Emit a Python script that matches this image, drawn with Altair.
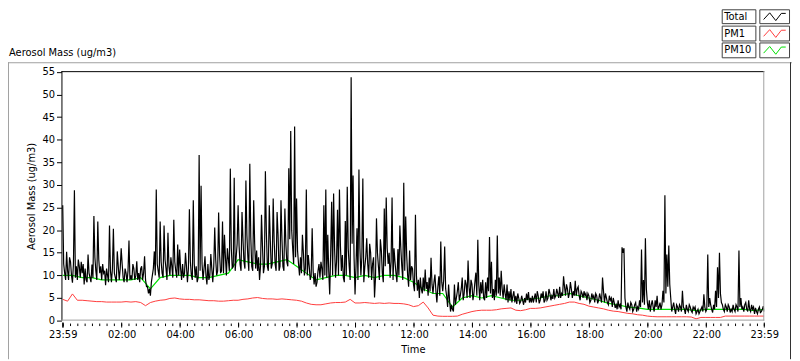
import json
import altair as alt
import pandas as pd

# ---------------- data ----------------
# Total aerosol mass, samples at 23:59 + 4*i minutes
TOTAL = [
    25.5, 10.5, 15.2, 9.0, 13.0, 8.4, 28.8, 12.0, 13.5, 9.5,
    10.5, 8.0, 9.0, 14.6, 9.5, 12.4, 23.1, 11.0, 21.9, 10.5,
    9.0, 10.5, 7.8, 10.0, 21.0, 8.5, 20.3, 9.5, 15.3, 9.0,
    16.0, 9.5, 11.5, 8.5, 17.7, 10.0, 12.5, 9.0, 13.1, 10.5,
    11.5, 9.0, 14.2, 7.5, 6.0, 5.5, 10.0, 15.3, 29.0, 11.0,
    21.9, 10.5, 21.0, 11.5, 19.4, 10.0, 12.0, 22.3, 11.0, 16.8,
    15.7, 9.0, 9.5, 15.0, 8.5, 24.6, 10.0, 26.6, 9.5, 8.5,
    36.6, 29.8, 9.0, 14.2, 8.0, 9.0, 14.7, 8.5, 20.6, 10.0,
    23.9, 10.5, 21.9, 19.0, 10.0, 13.5, 33.6, 11.5, 31.6, 14.0,
    25.5, 12.5, 24.0, 13.0, 31.0, 14.0, 34.7, 12.0, 26.6, 11.5,
    11.0, 9.0, 23.4, 10.5, 33.0, 12.0, 25.5, 11.5, 27.0, 12.5,
    24.0, 11.0, 26.6, 12.0, 24.8, 13.0, 33.7, 41.9, 16.0, 42.9,
    27.0, 12.5, 14.0, 19.0, 10.0, 29.0, 14.5, 9.0, 20.4, 8.0,
    7.5, 11.0, 9.5, 11.5, 25.5, 29.0, 19.0, 5.8, 26.3, 28.1,
    9.5, 24.5, 29.0, 11.0, 9.5, 22.0, 29.6, 12.0, 53.8, 32.1,
    5.8, 20.4, 33.4, 10.0, 31.4, 11.8, 18.2, 9.5, 15.0, 12.5,
    5.1, 22.6, 12.0, 18.0, 10.5, 24.8, 27.2, 12.5, 9.5, 27.2,
    16.0, 10.5, 15.8, 21.0, 12.0, 30.5, 23.0, 10.0, 15.5, 12.0,
    8.0, 23.4, 6.6, 5.0, 7.0, 9.5, 11.3, 8.5, 9.5, 13.9,
    6.0, 10.2, 4.0, 9.8, 17.5, 6.5, 16.4, 5.5, 8.0, 2.0,
    2.5, 8.0, 5.0, 8.5, 5.5, 9.5, 6.0, 8.0, 13.3, 5.0,
    8.0, 6.0, 10.6, 17.9, 4.5, 6.0, 5.0, 8.5, 9.5, 18.5,
    13.0, 7.0, 9.0, 18.8, 9.5, 11.0, 5.0, 6.0, 8.0, 6.5,
    7.0, 5.5, 4.0, 3.7, 5.0, 4.2, 4.5, 5.0, 6.0, 6.3,
    5.0, 5.5, 5.0, 4.0, 5.5, 4.5, 5.0, 4.0, 6.5, 5.0,
    6.0, 5.5, 7.0, 5.5, 6.0, 7.5, 6.0, 9.8, 5.5, 7.0,
    6.0, 7.0, 6.5, 8.8, 7.0, 5.5, 6.5, 5.0, 5.5, 4.5,
    5.5, 4.5, 5.0, 4.0, 5.5, 4.5, 5.0, 9.5, 4.0, 5.0,
    3.5, 4.5, 3.0, 4.0, 3.5, 4.5, 3.5, 16.2, 16.0, 3.0,
    4.0, 2.5, 3.5, 2.5, 4.0, 3.0, 4.5, 15.7, 9.0, 18.2,
    4.0, 4.5, 3.5, 3.0, 4.5, 5.5, 3.0, 2.5, 6.6, 27.7,
    14.6, 16.6, 5.0, 3.0, 2.5, 3.5, 2.0, 3.0, 6.6, 2.5,
    3.5, 2.0, 3.0, 1.8, 2.5, 1.5, 2.5, 2.0, 3.0, 5.8,
    2.0, 14.6, 5.0, 2.5, 3.5, 6.6, 11.8, 15.0, 4.0, 2.5,
    3.5, 2.0, 3.0, 2.5, 3.5, 2.0, 3.0, 15.5, 5.0, 3.0,
    3.5, 2.5, 4.5, 2.0, 2.5, 1.5, 2.0, 2.5, 1.8, 2.5,
    2.0,
]
# Total aerosol mass, samples at 23:59 + 4*i + 2 minutes
TOTAL_MID = [
    12.5, 9.0, 11.0, 14.0, 10.0, 12.5, 9.5, 9.0, 12.0, 13.0,
    12.5, 11.5, 8.5, 10.5, 8.5, 9.5, 14.0, 9.0, 13.5, 12.0,
    12.5, 11.0, 11.5, 8.5, 11.0, 11.5, 10.5, 8.5, 12.0, 11.5,
    12.5, 8.5, 10.5, 11.0, 9.0, 9.0, 11.5, 10.0, 9.0, 8.5,
    12.0, 10.5, 9.0, 7.5, 7.0, 8.5, 11.5, 10.0, 12.5, 9.5,
    13.0, 9.5, 13.5, 9.0, 12.0, 14.0, 9.5, 13.0, 9.5, 10.0,
    11.5, 12.5, 10.5, 12.0, 11.5, 13.0, 9.0, 12.5, 12.0, 9.5,
    11.0, 12.5, 11.5, 10.0, 12.5, 10.0, 11.5, 12.0, 13.5, 11.0,
    14.5, 11.0, 10.5, 14.0, 16.0, 11.0, 16.0, 12.0, 11.0, 17.0,
    16.5, 11.0, 18.0, 11.5, 19.0, 11.0, 18.5, 11.0, 17.0, 15.5,
    14.0, 12.0, 16.5, 12.0, 19.5, 11.0, 18.0, 12.5, 17.5, 11.0,
    19.0, 12.0, 18.0, 11.0, 17.0, 12.0, 18.0, 20.0, 12.5, 14.0,
    15.5, 10.0, 10.5, 15.0, 11.5, 10.0, 12.0, 10.0, 11.0, 10.5,
    8.5, 12.5, 13.0, 9.0, 10.0, 9.5, 11.0, 15.0, 10.0, 16.0,
    13.0, 10.0, 16.5, 14.5, 8.5, 10.0, 16.0, 9.0, 17.0, 14.0,
    12.0, 9.0, 16.0, 14.0, 8.5, 14.0, 12.5, 17.0, 9.0, 14.0,
    9.5, 15.0, 9.0, 15.5, 8.5, 12.0, 16.0, 15.0, 13.0, 9.0,
    13.0, 8.5, 10.0, 16.0, 9.0, 11.0, 14.5, 7.5, 9.0, 11.5,
    6.5, 10.0, 9.0, 9.5, 6.0, 6.5, 7.0, 5.5, 6.5, 8.0,
    8.5, 6.5, 7.5, 5.5, 8.5, 9.0, 7.0, 3.0, 4.5, 3.5,
    2.0, 3.5, 6.5, 4.5, 7.0, 4.5, 9.0, 5.0, 7.5, 9.0,
    4.5, 8.5, 5.5, 8.0, 8.5, 9.0, 4.5, 5.0, 6.5, 6.0,
    5.0, 4.5, 5.5, 6.0, 5.5, 7.0, 8.0, 4.5, 4.0, 4.5,
    4.0, 6.5, 5.5, 6.0, 3.8, 5.5, 3.5, 4.0, 4.5, 4.0,
    4.0, 4.0, 6.0, 6.5, 3.8, 6.0, 6.5, 4.5, 4.5, 7.0,
    4.5, 4.8, 5.0, 7.0, 5.0, 5.0, 5.5, 7.5, 8.0, 5.0,
    8.5, 5.0, 5.5, 5.5, 7.5, 4.5, 6.0, 6.5, 6.0, 6.0,
    4.0, 6.0, 5.5, 6.0, 3.8, 6.0, 4.0, 6.5, 6.0, 4.0,
    5.5, 5.0, 5.0, 2.8, 2.5, 3.0, 2.5, 15.0, 5.0, 2.0,
    3.0, 4.0, 2.0, 3.5, 2.0, 2.5, 3.0, 4.0, 3.5, 7.0,
    2.5, 2.0, 4.5, 2.0, 3.0, 2.5, 4.0, 3.5, 4.0, 6.0,
    7.5, 8.0, 2.0, 4.0, 1.5, 3.0, 3.5, 2.0, 3.0, 1.5,
    2.5, 3.5, 2.2, 3.0, 3.0, 2.0, 1.5, 2.5, 2.0, 3.0,
    2.5, 3.0, 3.5, 1.8, 2.5, 3.0, 5.0, 6.0, 3.5, 2.0,
    3.0, 3.5, 1.8, 2.0, 2.5, 3.5, 2.0, 3.0, 2.5, 2.0,
    4.0, 2.0, 2.5, 3.5, 3.0, 2.8, 1.5, 3.0, 2.0, 3.2,
]
TOTAL_STEP = 4

# PM10, one value every 20 minutes
PM10 = [
    10.0, 10.0, 9.5, 9.5, 9.0, 9.0, 9.0, 9.0, 9.5, 7.0,
    9.5, 10.0, 10.0, 10.0, 9.5, 9.5, 10.0, 10.5, 13.5, 13.0,
    12.5, 12.5, 13.0, 13.5, 12.0, 10.5, 9.0, 9.5, 10.0, 10.0,
    9.5, 10.0, 9.5, 10.0, 10.0, 9.5, 8.5, 7.0, 6.0, 6.0,
    3.0, 5.0, 5.5, 5.0, 5.5, 5.0, 4.5, 4.5, 4.8, 5.0,
    5.5, 5.5, 6.0, 5.5, 5.0, 4.5, 3.8, 3.5, 3.0, 2.8,
    2.5, 2.5, 2.5, 2.5, 2.5, 2.2, 2.5, 2.5, 2.5, 2.5,
    2.5, 2.2, 2.5,
]
PM10_STEP = 20

# PM1, one value every 10 minutes
PM1 = [
    4.7, 4.3, 5.9, 4.5, 4.5, 4.4, 4.3, 4.2, 4.2, 4.1,
    4.1, 4.1, 4.1, 4.2, 4.1, 4.2, 4.0, 3.3, 4.0, 4.3,
    4.5, 4.6, 4.9, 5.0, 4.8, 4.7, 4.7, 4.6, 4.6, 4.5,
    4.4, 4.4, 4.3, 4.3, 4.4, 4.5, 4.5, 4.7, 4.8, 5.0,
    5.1, 4.9, 4.8, 4.8, 4.7, 4.8, 4.7, 4.6, 4.5, 4.3,
    3.9, 3.6, 3.5, 3.5, 3.7, 3.9, 4.0, 4.0, 4.1, 4.7,
    3.9, 3.9, 4.0, 3.9, 3.8, 3.9, 3.8, 3.9, 3.8, 3.8,
    3.7, 3.5, 3.1, 3.3, 4.1, 2.8, 1.2, 1.0, 0.95, 0.95,
    0.95, 1.0, 1.4, 1.7, 2.0, 2.2, 2.3, 2.3, 2.3, 2.4,
    2.6, 2.7, 2.8, 2.3, 2.2, 2.4, 2.7, 2.7, 2.8, 3.0,
    3.2, 3.4, 3.6, 3.8, 4.1, 4.1, 3.8, 3.6, 3.2, 3.0,
    2.8, 2.6, 2.3, 2.1, 2.0, 1.8, 1.6, 1.5, 1.3, 1.2,
    1.0, 0.9, 0.85, 0.85, 0.85, 0.85, 0.85, 0.85, 0.85, 0.8,
    0.4, 0.7, 0.7, 0.7, 0.7, 0.7, 1.0, 1.0, 1.0, 1.0,
    1.0, 1.0, 1.0, 1.0, 1.0,
]
PM1_STEP = 10

# axis ticks (minutes after 23:59)
TICK_LABEL_T = [0, 121, 241, 361, 481, 601, 721, 841, 961, 1081, 1201, 1321, 1440]
TICK_LABELS = ["23:59", "02:00", "04:00", "06:00", "08:00", "10:00", "12:00",
               "14:00", "16:00", "18:00", "20:00", "22:00", "23:59"]
MAJOR_T = [0, 1, 121, 241, 361, 481, 601, 721, 841, 961, 1081, 1201, 1321, 1440]
MINOR_T = [1 + 15 * k for k in range(96)] + [1440]
Y_TICKS = [0, 5, 10, 15, 20, 25, 30, 35, 40, 45, 50, 55]

SERIES = ["Total", "PM1", "PM10"]
COLORS = ["#000000", "#ff3c3c", "#00e000"]
CHART_TITLE = "Aerosol Mass (ug/m3)"
X_TITLE = "Time"

# ---------------- chart ----------------
W, H = 710, 252
FONT = "DejaVu Sans"

df_total = pd.DataFrame({
    "t": [i * TOTAL_STEP for i in range(len(TOTAL))]
         + [i * TOTAL_STEP + TOTAL_STEP // 2 for i in range(len(TOTAL_MID))],
    "v": TOTAL + TOTAL_MID,
}).sort_values("t").reset_index(drop=True)
df_pm10 = pd.DataFrame({"t": [i * PM10_STEP for i in range(len(PM10))], "v": PM10})
df_pm1 = pd.DataFrame({"t": [i * PM1_STEP for i in range(len(PM1))], "v": PM1})

xscale = alt.Scale(domain=[-2.6, 1440], nice=False, zero=False)
yscale = alt.Scale(domain=[0, 55.15], nice=False, zero=True)

label_expr = f"{json.dumps(TICK_LABELS)}[indexof({json.dumps(TICK_LABEL_T)}, datum.value)]"

xaxis = alt.Axis(
    values=TICK_LABEL_T, labelExpr=label_expr, ticks=False, tickSize=0,
    domain=False, grid=False, labelFont=FONT, labelFontSize=10, labelColor="#000",
    labelPadding=17, labelBaseline="alphabetic", labelFlush=False,
    labelOverlap=False, labelBound=False,
    title=X_TITLE, titleFont=FONT, titleFontSize=10, titleFontWeight="normal",
    titleColor="#000", titleX=W / 2, titleY=32, titleBaseline="alphabetic",
    titleAlign="center",
)
yaxis = alt.Axis(
    values=Y_TICKS, tickSize=5, tickColor="#000", tickWidth=1, domain=False,
    grid=False, labelFont=FONT, labelFontSize=10, labelColor="#000",
    labelPadding=2,
    title=CHART_TITLE, titleFont=FONT, titleFontSize=10, titleFontWeight="normal",
    titleColor="#000", titleAngle=270, titleX=-27, titleY=H / 2,
    titleAlign="center", titleBaseline="alphabetic",
)

X = alt.X("t:Q", scale=xscale, axis=xaxis)
Y = alt.Y("v:Q", scale=yscale, axis=yaxis)

one = pd.DataFrame({"a": [0]})


def hrule(x, x2, y, color):
    return alt.Chart(one).mark_rule(color=color, strokeWidth=1).encode(
        x=alt.value(x), x2=alt.value(x2), y=alt.value(y))


def vrule(x, y, y2, color):
    return alt.Chart(one).mark_rule(color=color, strokeWidth=1).encode(
        x=alt.value(x), y=alt.value(y), y2=alt.value(y2))


layers = []

# series
layers.append(alt.Chart(df_pm10).mark_line(color=COLORS[2], strokeWidth=1.2, clip=True).encode(x=X, y=Y))
layers.append(alt.Chart(df_pm1).mark_line(color=COLORS[1], strokeWidth=1, clip=True).encode(x=X, y=Y))
layers.append(alt.Chart(df_total).mark_line(color=COLORS[0], strokeWidth=1.2, clip=True).encode(x=X, y=Y))

# x ticks
layers.append(alt.Chart(pd.DataFrame({"t": MINOR_T})).mark_rule(color="#000", strokeWidth=1).encode(
    x=X, y=alt.value(H + 3), y2=alt.value(H + 5.5)))
layers.append(alt.Chart(pd.DataFrame({"t": MAJOR_T})).mark_rule(color="#000", strokeWidth=1).encode(
    x=X, y=alt.value(H + 2), y2=alt.value(H + 7)))

# plot frame
layers.append(hrule(0, W, 0.5, "#000000"))
layers.append(vrule(0.5, 0, H, "#000000"))
layers.append(hrule(0, W, H - 0.5, "#a0a0a0"))
layers.append(vrule(W - 0.5, 0, H, "#a0a0a0"))

# outer panel frame
layers.append(hrule(-54, 738, -8.5, "#a0a0a0"))
layers.append(vrule(-53.5, -9, 291, "#a0a0a0"))
layers.append(vrule(736.5, -9, 291, "#303030"))

# chart title
layers.append(alt.Chart(one).mark_text(
    text=CHART_TITLE, align="left", baseline="middle", font=FONT, fontSize=10, color="#000"
).encode(x=alt.value(-53), y=alt.value(-18)))

# legend
ICON = "M-1,0.25L-0.45,-0.35L0.1,0.35L0.6,-0.3L1,-0.3"
rows = [(-62, -48), (-45.5, -30.5), (-28.5, -13.5)]
for name, color, (y0, y1) in zip(SERIES, COLORS, rows):
    layers.append(alt.Chart(one).mark_rect(fill="white", stroke="#404040", strokeWidth=1).encode(
        x=alt.value(667.5), x2=alt.value(701.5), y=alt.value(y0), y2=alt.value(y1)))
    layers.append(alt.Chart(one).mark_rect(fill="white", stroke="#404040", strokeWidth=1).encode(
        x=alt.value(705.5), x2=alt.value(735.5), y=alt.value(y0), y2=alt.value(y1)))
    layers.append(alt.Chart(one).mark_text(
        text=name, align="left", baseline="middle", font=FONT, fontSize=10, color="#000"
    ).encode(x=alt.value(669.5), y=alt.value((y0 + y1) / 2)))
    layers.append(alt.Chart(one).mark_point(
        shape=ICON, size=500, filled=False, stroke=color, strokeWidth=1, opacity=1
    ).encode(x=alt.value(720.5), y=alt.value((y0 + y1) / 2)))

chart = alt.layer(*layers).properties(
    width=W, height=H,
    autosize=alt.AutoSizeParams(type="none"),
    padding={"left": 54, "top": 62, "right": 28, "bottom": 39},
).configure(background="white", font=FONT).configure_view(stroke=None)

chart.save("out.html", embed_options={"renderer": "svg", "actions": False})
